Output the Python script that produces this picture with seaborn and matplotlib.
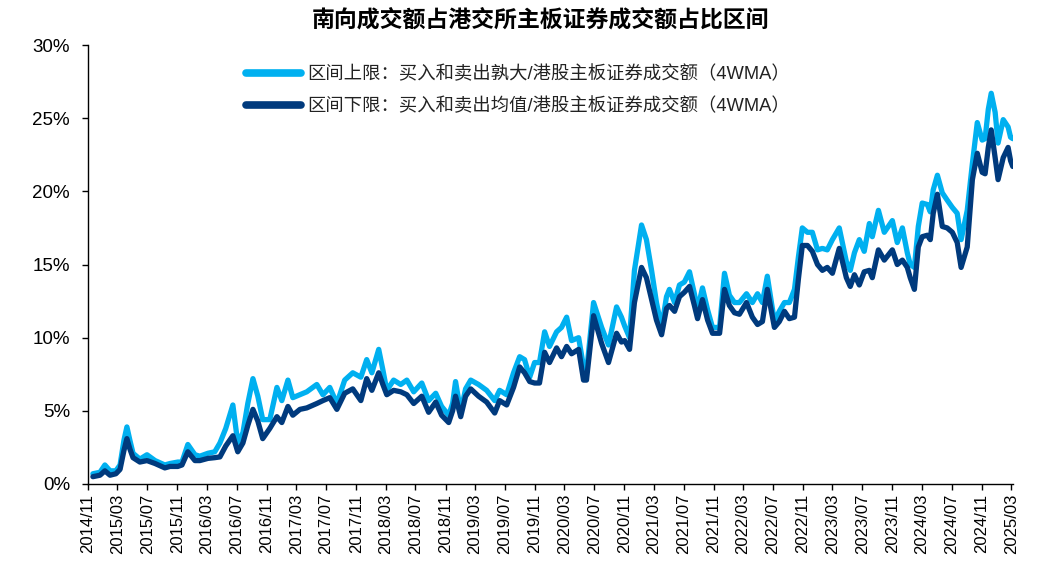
import matplotlib
matplotlib.use("Agg")
import matplotlib.pyplot as plt
import matplotlib.dates as mdates
import matplotlib.ticker as mticker
import seaborn as sns
import pandas as pd

title = "南向成交额占港交所主板证券成交额占比区间"
label_upper = "区间上限：买入和卖出孰大/港股主板证券成交额（4WMA）"
label_lower = "区间下限：买入和卖出均值/港股主板证券成交额（4WMA）"

dates = [
    "2014-11-21", "2014-12-20", "2015-01-09", "2015-01-30", "2015-02-23", "2015-03-12",
    "2015-03-28", "2015-04-09", "2015-04-21", "2015-05-04", "2015-06-01", "2015-06-30",
    "2015-08-02", "2015-09-11", "2015-10-02", "2015-11-03", "2015-11-20", "2015-12-14",
    "2016-01-12", "2016-02-01", "2016-03-05", "2016-04-02", "2016-04-23", "2016-05-17",
    "2016-06-15", "2016-07-05", "2016-07-26", "2016-08-15", "2016-09-05", "2016-09-25",
    "2016-10-15", "2016-11-13", "2016-12-12", "2017-01-01", "2017-01-26", "2017-02-15",
    "2017-03-16", "2017-04-13", "2017-05-24", "2017-06-18", "2017-07-16", "2017-08-14",
    "2017-09-15", "2017-10-18", "2017-11-20", "2017-12-14", "2018-01-04", "2018-02-01",
    "2018-02-18", "2018-03-06", "2018-04-03", "2018-05-02", "2018-05-27", "2018-06-24",
    "2018-07-27", "2018-08-24", "2018-09-22", "2018-10-16", "2018-11-14", "2018-11-30",
    "2018-12-12", "2019-01-02", "2019-01-22", "2019-02-12", "2019-03-16", "2019-04-18",
    "2019-05-21", "2019-06-10", "2019-07-09", "2019-08-06", "2019-08-31", "2019-09-20",
    "2019-10-11", "2019-10-31", "2019-11-20", "2019-12-11", "2019-12-31", "2020-01-29",
    "2020-02-18", "2020-03-10", "2020-03-30", "2020-04-28", "2020-05-18", "2020-05-30",
    "2020-06-28", "2020-07-31", "2020-08-28", "2020-09-30", "2020-10-20", "2020-11-02",
    "2020-11-22", "2020-12-12", "2021-01-10", "2021-01-30", "2021-02-20", "2021-03-12",
    "2021-04-02", "2021-04-22", "2021-05-04", "2021-05-25", "2021-06-14", "2021-07-04",
    "2021-07-25", "2021-08-14", "2021-08-27", "2021-09-16", "2021-10-07", "2021-10-27",
    "2021-11-25", "2021-12-15", "2022-01-04", "2022-01-25", "2022-02-14", "2022-03-15",
    "2022-04-08", "2022-04-29", "2022-05-19", "2022-06-08", "2022-07-07", "2022-07-27",
    "2022-08-17", "2022-09-06", "2022-09-27", "2022-10-13", "2022-10-29", "2022-11-19",
    "2022-12-09", "2022-12-30", "2023-01-19", "2023-02-08", "2023-03-01", "2023-03-29",
    "2023-04-27", "2023-05-13", "2023-05-30", "2023-06-19", "2023-07-09", "2023-07-30",
    "2023-08-11", "2023-09-05", "2023-09-29", "2023-11-01", "2023-11-21", "2023-12-12",
    "2024-01-01", "2024-01-13", "2024-01-30", "2024-02-15", "2024-03-02", "2024-03-23",
    "2024-04-04", "2024-04-16", "2024-05-03", "2024-05-23", "2024-06-12", "2024-07-03",
    "2024-07-23", "2024-08-08", "2024-09-02", "2024-09-23", "2024-10-13", "2024-11-02",
    "2024-11-14", "2024-11-27", "2024-12-09", "2024-12-25", "2025-01-06", "2025-01-27",
    "2025-02-16", "2025-02-26", "2025-03-07",
]

upper = [
    0.7, 0.8, 1.3, 0.9, 0.9, 1.3,
    3.0, 3.9, 3.0, 2.1, 1.7, 2.0,
    1.6, 1.3, 1.4, 1.5, 1.5, 2.7,
    2.0, 1.9, 2.1, 2.2, 2.8, 3.8,
    5.4, 2.8, 3.5, 5.5, 7.2, 6.0,
    4.4, 4.4, 6.6, 5.7, 7.1, 5.9,
    6.1, 6.3, 6.8, 6.1, 6.6, 5.5,
    7.1, 7.6, 7.3, 8.5, 7.6, 9.2,
    7.8, 6.4, 7.1, 6.8, 7.1, 6.3,
    6.9, 5.7, 6.2, 5.3, 4.7, 5.5,
    7.0, 4.9, 6.5, 7.1, 6.8, 6.4,
    5.7, 6.4, 6.1, 7.6, 8.7, 8.5,
    7.3, 8.3, 8.3, 10.4, 9.4, 10.4,
    10.7, 11.4, 9.8, 10.0, 8.0, 7.6,
    12.4, 10.7, 9.5, 12.1, 11.4, 10.8,
    10.0, 14.6, 17.7, 16.7, 14.6, 12.4,
    10.7, 12.8, 13.3, 12.4, 13.6, 13.8,
    14.5, 13.0, 11.9, 13.4, 11.9, 10.7,
    10.7, 14.4, 12.9, 12.4, 12.4, 13.0,
    12.4, 13.0, 12.4, 14.2, 11.1, 11.8,
    12.4, 12.4, 13.3, 15.5, 17.5, 17.2,
    17.2, 16.0, 16.1, 16.0, 16.7, 17.5,
    15.2, 14.6, 15.8, 16.7, 15.9, 17.8,
    16.9, 18.7, 17.2, 18.0, 16.5, 17.5,
    15.8, 15.0, 14.8, 17.6, 19.2, 19.1,
    18.6, 20.1, 21.1, 19.9, 19.4, 18.9,
    18.5, 16.7, 18.7, 21.9, 24.7, 23.5,
    23.6, 25.6, 26.7, 25.4, 23.3, 24.9,
    24.4, 23.7, 23.6,
]

lower = [
    0.5, 0.6, 0.9, 0.6, 0.7, 1.0,
    2.3, 3.1, 2.4, 1.8, 1.5, 1.6,
    1.4, 1.1, 1.2, 1.2, 1.3, 2.2,
    1.6, 1.6, 1.75, 1.8, 1.85, 2.6,
    3.3, 2.2, 2.8, 4.0, 5.1, 4.3,
    3.1, 3.8, 4.6, 4.2, 5.3, 4.7,
    5.1, 5.2, 5.5, 5.7, 5.9, 5.1,
    6.2, 6.5, 5.7, 7.2, 6.4, 7.6,
    6.8, 6.1, 6.4, 6.3, 6.1, 5.5,
    6.0, 4.9, 5.6, 4.7, 4.2, 5.0,
    6.0, 4.6, 6.0, 6.5, 6.0, 5.6,
    4.85, 5.7, 5.4, 6.6, 8.0, 7.6,
    7.0, 6.9, 6.9, 9.0, 8.3, 9.3,
    8.7, 9.4, 8.9, 9.2, 7.1, 7.1,
    11.5, 9.6, 8.3, 10.3, 9.7, 9.8,
    9.2, 12.4, 14.8, 14.1, 12.6, 11.2,
    10.2, 12.0, 12.2, 11.8, 12.8, 13.1,
    13.5, 12.2, 11.3, 12.6, 11.2, 10.3,
    10.3, 13.3, 12.2, 11.7, 11.6, 12.4,
    11.4, 10.9, 11.1, 13.3, 10.7, 11.1,
    11.8, 11.3, 11.4, 14.0, 16.3, 16.3,
    15.9, 15.0, 14.6, 14.8, 14.4, 16.1,
    14.1, 13.5, 14.3, 13.6, 14.5, 14.6,
    14.1, 16.0, 15.3, 16.0, 15.0, 15.3,
    14.8, 14.1, 13.3, 16.2, 16.9, 17.0,
    16.7, 18.5, 19.8, 17.6, 17.5, 17.2,
    16.5, 14.8, 16.2, 20.8, 22.6, 21.3,
    21.2, 23.0, 24.2, 22.3, 20.8, 22.3,
    23.0, 22.1, 21.7,
]

yticks = [0, 5, 10, 15, 20, 25, 30]

df = pd.DataFrame({
    "date": pd.to_datetime(dates * 2),
    "value": upper + lower,
    "series": [label_upper] * len(dates) + [label_lower] * len(dates),
})

sns.set_theme(style="white")
plt.rcParams["font.family"] = ["Liberation Sans", "Noto Sans CJK SC", "DejaVu Sans"]
plt.rcParams["axes.unicode_minus"] = False

fig = plt.figure(figsize=(10.54, 5.65), dpi=100)
ax = fig.add_axes([88 / 1054, 1 - 484 / 565, (1013 - 88) / 1054, (484 - 45) / 565])

palette = {label_upper: "#00B0F0", label_lower: "#003A7D"}
sns.lineplot(data=df, x="date", y="value", hue="series", palette=palette,
             hue_order=[label_upper, label_lower], linewidth=3.8, ax=ax,
             legend=True)

ax.set_xlim(pd.Timestamp("2014-11-01"), pd.Timestamp("2025-03-08"))
ax.set_ylim(0, 30)
ax.set_yticks(yticks)
ax.yaxis.set_major_formatter(mticker.FuncFormatter(lambda v, p: f"{v:.0f}%"))
ax.xaxis.set_major_locator(mdates.MonthLocator(bymonth=[3, 7, 11]))
ax.xaxis.set_major_formatter(mdates.DateFormatter("%Y/%m"))
ax.set_xlabel("")
ax.set_ylabel("")

for s in ["top", "right"]:
    ax.spines[s].set_visible(False)
for s in ["left", "bottom"]:
    ax.spines[s].set_color("black")
    ax.spines[s].set_linewidth(1.0)

ax.tick_params(axis="x", direction="out", length=4, width=1, color="black",
               labelsize=12, labelcolor="black", rotation=90, pad=3, bottom=True)
ax.tick_params(axis="y", direction="out", length=4, width=1, color="black",
               labelsize=13.5, labelcolor="black", pad=9, left=True)

leg = ax.legend(frameon=False, loc="upper left", bbox_to_anchor=(0.153, 0.99),
                fontsize=13.2, handlelength=3.0, handletextpad=0.35, labelspacing=0.75)
for line in leg.get_lines():
    line.set_linewidth(5.5)
    line.set_solid_capstyle("round")
for t in leg.get_texts():
    t.set_color("#222222")

fig.text(540 / 1054, 1 - 20 / 565, title, ha="center", va="center",
         fontsize=16.5, fontweight="bold", color="black",
         family=["Noto Sans CJK SC", "DejaVu Sans"])

fig.savefig("out.png", dpi=100)
